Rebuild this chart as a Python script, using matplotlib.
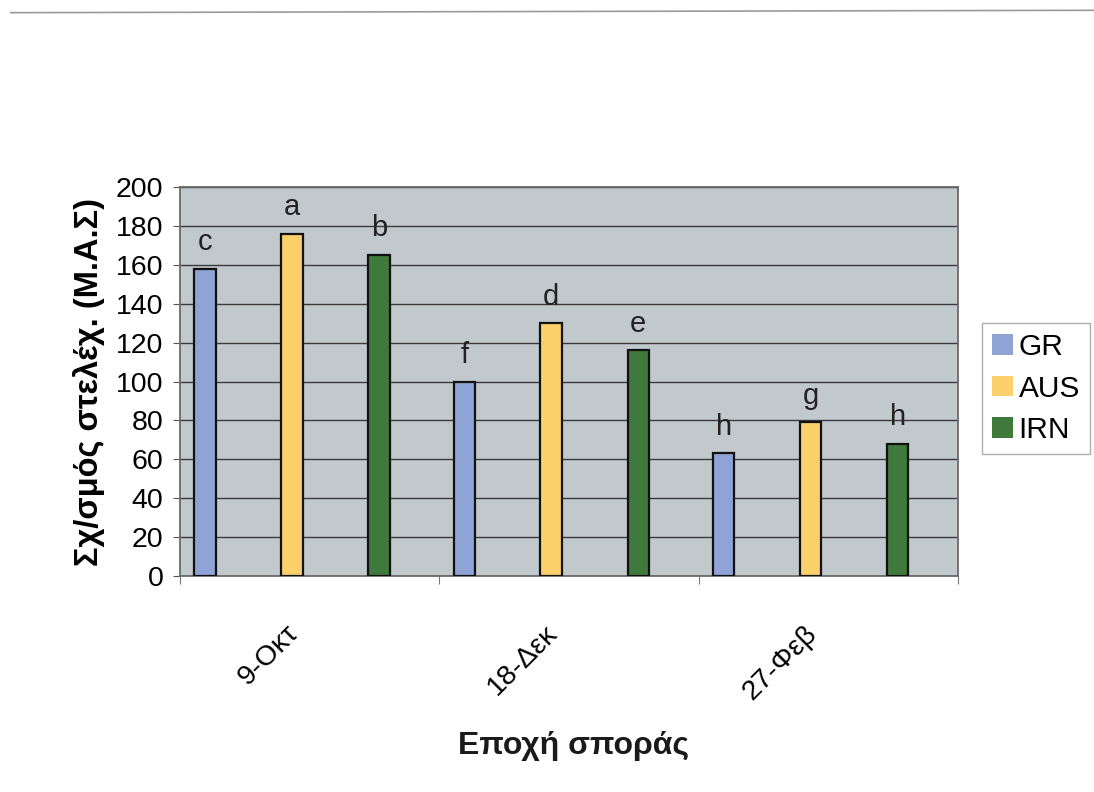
import numpy as np
import matplotlib.pyplot as plt
from matplotlib.lines import Line2D
from matplotlib.transforms import ScaledTranslation

# sowing dates and cultivar series
dates = ['9-Οκτ', '18-Δεκ', '27-Φεβ']
cultivars = ['GR', 'AUS', 'IRN']
values = {
    'GR': [158, 100, 63],
    'AUS': [176, 130, 79],
    'IRN': [165, 116, 68],
}
letters = {
    'GR': ['c', 'f', 'h'],
    'AUS': ['a', 'd', 'g'],
    'IRN': ['b', 'e', 'h'],
}
colors = {'GR': '#8fa3d6', 'AUS': '#fcd06a', 'IRN': '#3f7a3c'}

plt.rcParams['font.family'] = ['Liberation Sans', 'DejaVu Sans']
fs = 20.5

fig = plt.figure(figsize=(10.94, 7.92), dpi=100)
fig.patch.set_facecolor('white')
ax = fig.add_axes([0.1645, 0.2727, 0.711, 0.4912])
ax.set_facecolor('#c1c9cd')

x = np.arange(len(dates))
offsets = [-0.403, -0.068, 0.268]
width = 0.083
for off, name in zip(offsets, cultivars):
    ax.bar(x + off, values[name], width, color=colors[name], edgecolor='#111111',
           linewidth=1.6, label=name, zorder=3)
    for xi, v, lt in zip(x + off, values[name], letters[name]):
        ax.text(xi, v + 6.5, lt, ha='center', va='bottom', fontsize=21, color='#222222')

ax.set_xlim(-0.5, 2.5)
ax.set_ylim(0, 200)
ax.set_yticks(np.arange(0, 201, 20))
ax.yaxis.grid(True, color='#3a3a3a', linewidth=1.0, zorder=1)
ax.tick_params(axis='y', labelsize=fs, length=5, color='#555555', pad=7)

# tick marks at category borders, labels at category centres
ax.set_xticks([-0.5, 0.5, 1.5, 2.5])
ax.set_xticklabels([])
ax.set_xticks(x, minor=True)
ax.set_xticklabels(dates, minor=True, rotation=45, ha='right', va='top',
                   rotation_mode='anchor', fontsize=fs)
ax.tick_params(axis='x', which='major', length=6, color='#777777')
ax.tick_params(axis='x', which='minor', length=0, pad=32)
shift = ScaledTranslation(-0.24, 0.0, fig.dpi_scale_trans)
for lbl in ax.get_xticklabels(minor=True):
    lbl.set_transform(lbl.get_transform() + shift)

for side in ax.spines.values():
    side.set_color('#6a6a6a')
    side.set_linewidth(1.3)

ax.set_ylabel('Σχ/σμός στελέχ. (Μ.Α.Σ)', fontsize=23.5, fontweight='bold', labelpad=8)
fig.text(0.524, 0.058, 'Εποχή σποράς', ha='center', va='center', fontsize=23,
         fontweight='bold', color='#1a1a1a')

leg = ax.legend(loc='center left', bbox_to_anchor=(1.031, 0.482), fontsize=21.5,
                frameon=True, fancybox=False, handlelength=0.68, handleheight=0.68,
                handletextpad=0.2, borderpad=0.35, labelspacing=0.45, borderaxespad=0)
leg.get_frame().set_edgecolor('#999999')
leg.get_frame().set_linewidth(1.0)
for h in leg.legend_handles:
    h.set_edgecolor('none')

# thin border line near the top of the page
fig.add_artist(Line2D([0.01, 1.0], [0.984, 0.987], color='#9a9a9a', linewidth=1.2,
                      transform=fig.transFigure))

fig.savefig('out.png', dpi=100)
